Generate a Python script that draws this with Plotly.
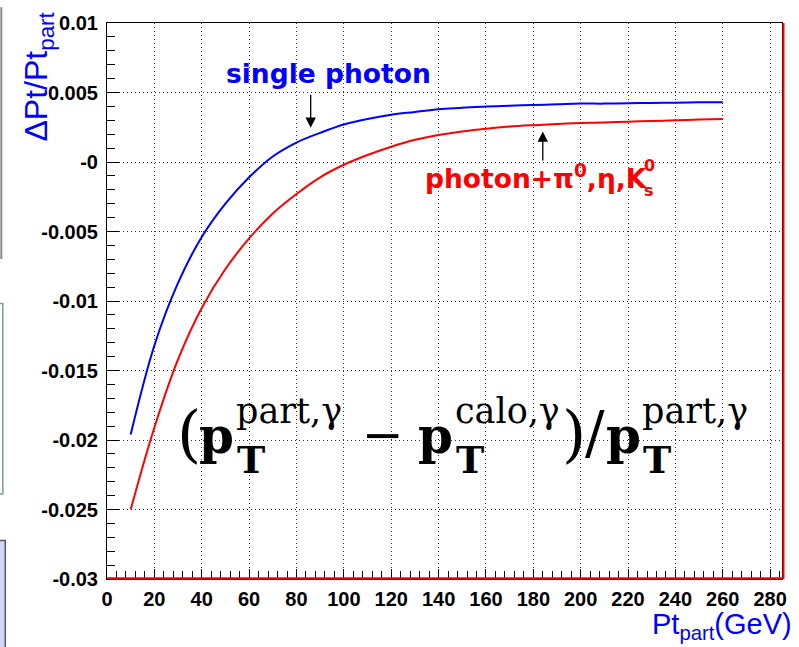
import plotly.graph_objects as go

# ---- data ----
pt = [10, 20, 30, 40, 50, 60, 70, 80, 90, 100, 110, 120, 130, 140, 150, 160,
      170, 180, 190, 200, 210, 220, 230, 240, 250, 260]
single_photon = [-0.0196, -0.0132, -0.0087, -0.0054, -0.0030, -0.0011, 0.0004,
                 0.0014, 0.0021, 0.0027, 0.0031, 0.0034, 0.0036, 0.0038, 0.0039,
                 0.0040, 0.00405, 0.0041, 0.00415, 0.0042, 0.0042, 0.00423,
                 0.00425, 0.00427, 0.0043, 0.0043]
photon_mix = [-0.0250, -0.0191, -0.0142, -0.0105, -0.0077, -0.0055, -0.0037,
              -0.0023, -0.0011, -0.0002, 0.0005, 0.0011, 0.0016, 0.00195, 0.0022,
              0.0024, 0.00255, 0.00265, 0.00273, 0.0028, 0.00285, 0.0029, 0.00295,
              0.0030, 0.00305, 0.0031]
y_tickvals = [-0.03, -0.025, -0.02, -0.015, -0.01, -0.005, 0, 0.005, 0.01]
y_ticktext = ["-0.03", "-0.025", "-0.02", "-0.015", "-0.01", "-0.005", "-0", "0.005", "0.01"]
x_tickvals = list(range(0, 281, 20))

W, H = 799, 647
L, R, T, B = 107, 15, 16, 68
PW, PH = W - L - R, H - T - B


def xp(px):
    return (px - L) / PW


def yp(py):
    return 1 - (py - T) / PH


fig = go.Figure()
fig.add_trace(go.Scatter(x=pt, y=single_photon, mode="lines", line_shape="spline",
                         line=dict(color="#0000ff", width=2), showlegend=False))
fig.add_trace(go.Scatter(x=pt, y=photon_mix, mode="lines", line_shape="spline",
                         line=dict(color="#ff0000", width=2), showlegend=False))

annotations = []


def txt(text, px, py, size, family="DejaVu Sans", color="black", weight="normal",
        xanchor="left", yanchor="middle", angle=0):
    annotations.append(dict(text=text, x=xp(px), y=yp(py), xref="paper", yref="paper",
                            xanchor=xanchor, yanchor=yanchor, showarrow=False,
                            textangle=angle, borderpad=0,
                            font=dict(size=size, family=family, color=color, weight=weight)))


# labels
txt("single photon", 225, 67, 26.5, weight="bold", color="#0000ff")
txt("photon+π<sup>0</sup>,η,K", 425, 172, 26.5, weight="bold", color="#ff0000")
txt("0", 645, 160, 16, weight="bold", color="#ff0000")
txt("s", 645, 186, 16, weight="bold", color="#ff0000")

# arrows
annotations.append(dict(x=86, y=0.00246, ax=86, ay=0.00494, xref="x", yref="y",
                        axref="x", ayref="y", text="", showarrow=True, arrowhead=2,
                        arrowsize=1.6, arrowwidth=1.3, arrowcolor="black"))
annotations.append(dict(x=184, y=0.0022, ax=184, ay=0.0, xref="x", yref="y",
                        axref="x", ayref="y", text="", showarrow=True, arrowhead=2,
                        arrowsize=1.6, arrowwidth=1.3, arrowcolor="black"))

# formula
SF = "DejaVu Serif"
base = 451
txt("(", 176, base - 0.35 * 62 + 2, 62, family=SF)
for (xpl, sup) in [(198, "part,γ"), (418, "calo,γ"), (606, "part,γ")]:
    txt("p", xpl, base - 0.35 * 50, 50, family=SF, weight="bold")
    txt("T", xpl + 38, 471 - 0.35 * 38, 38, family=SF, weight="bold")
    txt(sup, xpl + 37, 421 - 0.35 * 35, 35, family=SF)
txt("−", 362, base - 0.35 * 50, 50, family=SF)
txt(")", 562, base - 0.35 * 62 + 2, 62, family=SF)
txt("/", 585, base - 0.35 * 58, 58, family=SF)

# axis titles
txt("ΔPt/Pt<sub>part</sub>", 38, 70, 32, family="Liberation Sans", color="#0000ff",
    xanchor="center", angle=-90)
txt("Pt<sub>part</sub>(GeV)", 795, 627, 29, family="Liberation Sans", color="#0000ff",
    xanchor="right")

shapes = [
    # red lines at bottom and right (histogram frame)
    dict(type="line", xref="paper", yref="paper", x0=0, x1=1, y0=0.0015, y1=0.0015,
         line=dict(color="#ff0000", width=2)),
    dict(type="line", xref="paper", yref="paper", x0=xp(785.5), x1=xp(785.5), y0=0, y1=1,
         line=dict(color="#ff0000", width=2)),
    # fragments of neighbouring slide at the left edge
    dict(type="line", xref="paper", yref="paper", x0=xp(1), x1=xp(1), y0=yp(0), y1=yp(255),
         line=dict(color="#8a8a8a", width=2)),
    dict(type="rect", xref="paper", yref="paper", x0=xp(-20), x1=xp(2.5), y0=yp(493), y1=yp(300),
         line=dict(color="#7f9b8c", width=1.5), fillcolor="white"),
    dict(type="rect", xref="paper", yref="paper", x0=xp(-20), x1=xp(5), y0=yp(660), y1=yp(540),
         line=dict(color="#50586a", width=1.5), fillcolor="#cfd7f8"),
]

fig.update_layout(
    width=W, height=H,
    margin=dict(l=L, r=R, t=T, b=B, pad=0),
    paper_bgcolor="white", plot_bgcolor="white",
    annotations=annotations, shapes=shapes,
    xaxis=dict(range=[0, 285], tickvals=x_tickvals, ticks="inside", ticklen=10,
               tickcolor="black", tickwidth=1,
               minor=dict(dtick=4, ticks="inside", ticklen=8, tickcolor="black", showgrid=False),
               showgrid=True, gridcolor="#333333", gridwidth=1, griddash="1px,3px",
               showline=True, linecolor="black", linewidth=1, mirror=True,
               zeroline=False, ticklabelstandoff=2,
               tickfont=dict(family="Liberation Sans", size=20, color="black", weight="bold")),
    yaxis=dict(range=[-0.03, 0.01], tickvals=y_tickvals, ticktext=y_ticktext,
               ticks="inside", ticklen=12, tickcolor="black", tickwidth=1,
               minor=dict(dtick=0.001, tick0=0, ticks="inside", ticklen=8, tickcolor="black",
                          showgrid=False),
               showgrid=True, gridcolor="#333333", gridwidth=1, griddash="1px,3px",
               showline=True, linecolor="black", linewidth=1, mirror=True,
               zeroline=False, ticklabelstandoff=4,
               tickfont=dict(family="Liberation Sans", size=20, color="black", weight="bold")),
)

fig.write_html("out.html")
